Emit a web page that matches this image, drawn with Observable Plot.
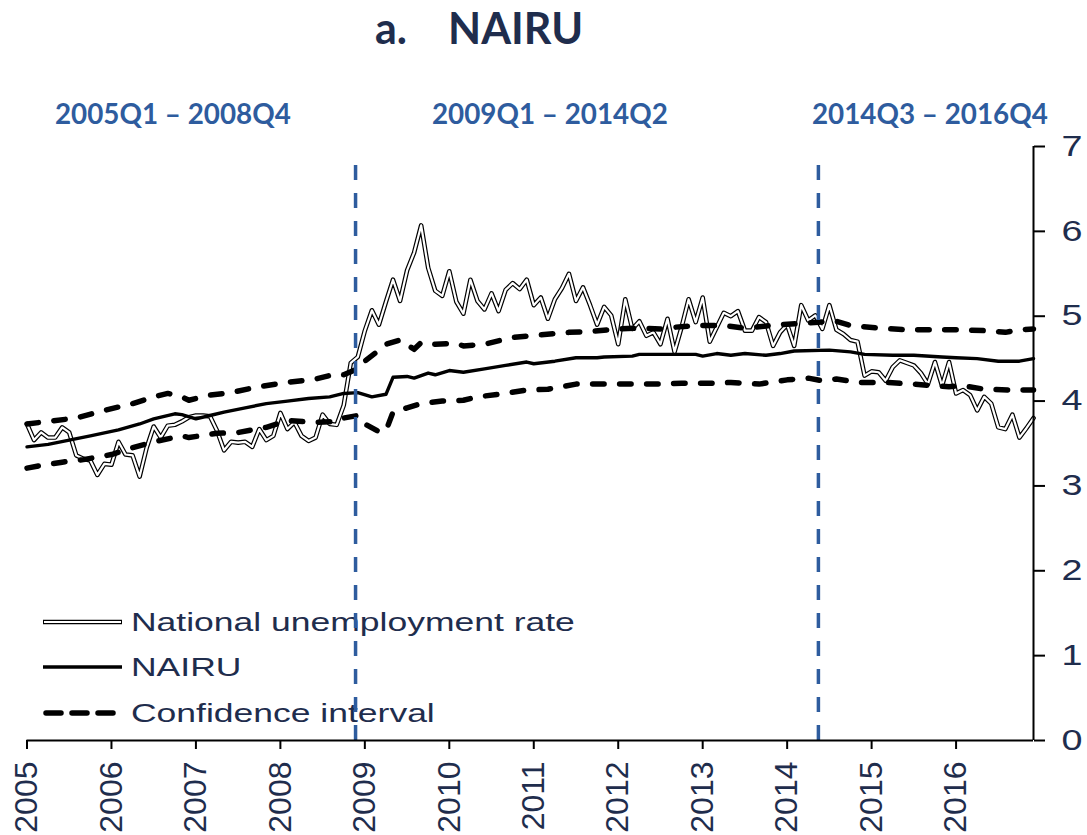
<!DOCTYPE html>
<html><head><meta charset="utf-8">
<script src="https://cdn.jsdelivr.net/npm/d3@7"></script>
<script src="https://cdn.jsdelivr.net/npm/@observablehq/plot@0.6"></script>
<style>
body{margin:0;background:#fff;}
#wrap{position:relative;width:1087px;height:835px;overflow:hidden;}
#overlay,#chart{position:absolute;left:0;top:0;}
</style></head><body>
<div id="wrap">
<svg id="overlay" width="1087" height="835" xmlns="http://www.w3.org/2000/svg"></svg>
<div id="chart"></div>
</div>
<script>
// ---- data ----
const title = "NAIRU";
const titlePrefix = "a.";
const periodLabels = ["2005Q1 – 2008Q4", "2009Q1 – 2014Q2", "2014Q3 – 2016Q4"];
const seriesNames = ["National unemployment rate", "NAIRU", "Confidence interval"];
const startYear = 2005;
const xTicks = [2005, 2006, 2007, 2008, 2009, 2010, 2011, 2012, 2013, 2014, 2015, 2016];
const yTicks = [0, 1, 2, 3, 4, 5, 6, 7];
const breakDates = [2008.89, 2014.37];
const breakTop = 6.93;

// monthly national unemployment rate, Jan 2005 - Dec 2016
const unemployment = [
  3.73, 3.54, 3.63, 3.57, 3.57, 3.69, 3.63, 3.36, 3.32, 3.30, 3.13, 3.26,
  3.25, 3.52, 3.37, 3.36, 3.11, 3.45, 3.70, 3.57, 3.71, 3.72, 3.76, 3.81,
  3.83, 3.83, 3.82, 3.65, 3.42, 3.52, 3.51, 3.52, 3.46, 3.67, 3.54, 3.59,
  3.86, 3.67, 3.75, 3.59, 3.53, 3.57, 3.84, 3.73, 3.72, 3.95, 4.45, 4.52,
  4.83, 5.07, 4.90, 5.17, 5.43, 5.18, 5.54, 5.75, 6.07, 5.57, 5.30, 5.24,
  5.53, 5.17, 5.03, 5.43, 5.18, 5.08, 5.27, 5.06, 5.31, 5.39, 5.32, 5.43,
  5.13, 5.22, 4.97, 5.20, 5.33, 5.50, 5.18, 5.34, 5.13, 4.90, 5.11, 5.01,
  4.67, 5.20, 4.85, 4.94, 4.77, 4.81, 4.67, 4.97, 4.58, 4.87, 5.20, 4.93,
  5.22, 4.70, 4.87, 5.04, 5.00, 5.06, 4.83, 4.83, 4.99, 4.93, 4.65, 4.81,
  4.90, 4.65, 5.13, 4.95, 5.01, 4.85, 5.13, 4.84, 4.79, 4.72, 4.70, 4.30,
  4.35, 4.34, 4.24, 4.40, 4.48, 4.45, 4.42, 4.33, 4.20, 4.46, 4.18, 4.46,
  4.09, 4.13, 4.07, 3.89, 4.05, 3.97, 3.69, 3.67, 3.84, 3.57, 3.68, 3.80
];

const nairuMonths = ["2005-01","2005-04","2005-07","2005-10","2006-02","2006-05","2006-07","2006-10","2006-11","2007-01","2007-03","2007-05","2007-08","2007-11","2008-02","2008-05","2008-08","2008-10","2008-12","2009-02","2009-04","2009-05","2009-07","2009-08","2009-10","2009-11","2010-01","2010-03","2010-06","2010-09","2010-12","2011-01","2011-04","2011-07","2011-10","2011-11","2012-03","2012-04","2012-12","2013-01","2013-03","2013-05","2013-07","2013-10","2013-12","2014-02","2014-07","2014-10","2014-12","2015-04","2015-07","2015-11","2016-01","2016-04","2016-07","2016-10","2016-12"];
const nairuValues = [3.46,3.49,3.54,3.59,3.66,3.73,3.79,3.85,3.84,3.79,3.83,3.87,3.92,3.97,4.00,4.03,4.05,4.09,4.10,4.05,4.08,4.28,4.29,4.27,4.33,4.31,4.36,4.34,4.38,4.42,4.46,4.44,4.47,4.51,4.51,4.52,4.53,4.55,4.55,4.53,4.56,4.54,4.56,4.54,4.56,4.59,4.60,4.58,4.55,4.54,4.54,4.52,4.51,4.50,4.47,4.47,4.50];

const upperMonths = ["2005-01","2005-04","2005-08","2005-12","2006-04","2006-07","2006-09","2006-11","2006-12","2007-03","2007-06","2007-10","2008-02","2008-06","2008-09","2008-10","2008-12","2009-01","2009-03","2009-04","2009-06","2009-08","2009-09","2009-11","2010-02","2010-03","2010-06","2010-10","2011-02","2011-06","2011-09","2012-01","2012-04","2012-07","2012-09","2012-12","2013-04","2013-07","2013-12","2014-04","2014-07","2014-08","2014-10","2015-02","2015-06","2015-10","2016-02","2016-05","2016-08","2016-10","2016-12"];
const upperValues = [3.73,3.76,3.80,3.89,3.97,4.05,4.09,4.05,4.01,4.07,4.10,4.17,4.22,4.26,4.32,4.31,4.38,4.47,4.60,4.67,4.72,4.61,4.69,4.67,4.68,4.65,4.67,4.75,4.78,4.81,4.82,4.85,4.86,4.85,4.87,4.89,4.89,4.86,4.90,4.92,4.94,4.94,4.89,4.86,4.84,4.84,4.84,4.83,4.81,4.84,4.85];

const lowerMonths = ["2005-01","2005-03","2005-06","2005-09","2006-01","2006-04","2006-07","2006-11","2006-12","2007-04","2007-07","2007-11","2008-02","2008-06","2008-09","2008-10","2008-12","2009-01","2009-03","2009-04","2009-05","2009-07","2009-09","2009-12","2010-03","2010-05","2010-08","2010-12","2011-03","2011-07","2011-10","2012-02","2012-06","2012-10","2013-02","2013-05","2013-09","2014-01","2014-04","2014-06","2014-08","2014-11","2015-03","2015-07","2015-10","2015-12","2016-02","2016-05","2016-09","2016-12"];
const lowerValues = [3.21,3.24,3.28,3.31,3.37,3.45,3.52,3.59,3.57,3.62,3.63,3.69,3.77,3.75,3.76,3.80,3.83,3.73,3.64,3.65,3.87,3.92,3.97,4.00,4.01,4.05,4.08,4.13,4.14,4.20,4.20,4.20,4.20,4.21,4.21,4.22,4.20,4.25,4.27,4.24,4.26,4.22,4.22,4.20,4.18,4.17,4.18,4.14,4.13,4.13];

// ---- build tables ----
const ym = s => { const [y, m] = s.split("-").map(Number); return y + (m - 1) / 12; };
const unempData = unemployment.map((v, i) => ({t: startYear + i / 12, v}));
const nairuData = nairuMonths.map((m, i) => ({t: ym(m), v: nairuValues[i]}));
const upperData = upperMonths.map((m, i) => ({t: ym(m), v: upperValues[i]}));
const lowerData = lowerMonths.map((m, i) => ({t: ym(m), v: lowerValues[i]}));
const xMax = startYear + (unemployment.length - 1) / 12;

const navy = "#1f2d4d";
const blue = "#2e5c9e";
const ciDash = "11.5,15.5";

const chart = Plot.plot({
  width: 1087, height: 835,
  marginLeft: 26.5, marginRight: 54, marginTop: 146, marginBottom: 95,
  style: {background: "transparent", fontFamily: "'Liberation Sans', Arial, sans-serif", color: navy, overflow: "visible"},
  x: {domain: [startYear, xMax]},
  y: {domain: [0, 7]},
  marks: [
    Plot.line(unempData, {x: "t", y: "v", stroke: "black", strokeWidth: 4.6, strokeLinejoin: "round"}),
    Plot.line(unempData, {x: "t", y: "v", stroke: "white", strokeWidth: 2.2, strokeLinejoin: "round"}),
    Plot.line(nairuData, {x: "t", y: "v", stroke: "black", strokeWidth: 3.4}),
    Plot.line(upperData, {x: "t", y: "v", stroke: "black", strokeWidth: 5.5, strokeDasharray: ciDash, strokeLinecap: "round"}),
    Plot.line(lowerData, {x: "t", y: "v", stroke: "black", strokeWidth: 5.5, strokeDasharray: ciDash, strokeLinecap: "round"}),
    Plot.ruleX(breakDates, {y1: 0, y2: breakTop, stroke: blue, strokeWidth: 3.5, strokeDasharray: "15,13"}),
    Plot.ruleY([0], {stroke: "black", strokeWidth: 2}),
    Plot.ruleX([xMax], {stroke: "black", strokeWidth: 2}),
    Plot.axisX({ticks: xTicks, tickFormat: d => String(d), tickSize: 9, tickRotate: -90, tickPadding: 12,
      fontSize: 32, stroke: "black", strokeWidth: 2, fill: navy, label: null}),
    Plot.axisY({anchor: "right", ticks: yTicks, tickFormat: d => String(d), tickSize: 11, tickPadding: 17, fontSize: 29,
      textAnchor: "start", stroke: "black", strokeWidth: 2, fill: navy, label: null})
  ]
});
document.getElementById("chart").appendChild(chart);

// widen right-axis labels like the reference (stretched glyphs)
chart.querySelectorAll('g[aria-label="y-axis tick label"] text').forEach(t => {
  t.setAttribute("textLength", 21);
  t.setAttribute("lengthAdjust", "spacingAndGlyphs");
});

// ---- overlay: title, period labels, legend ----
const ov = d3.select("#overlay");
const tt = ov.append("text").attr("x", 375).attr("y", 44)
  .attr("font-family", "Lato, 'Open Sans', sans-serif").attr("font-weight", 700)
  .attr("font-size", 43).attr("fill", navy);
tt.append("tspan").text(titlePrefix);
tt.append("tspan").attr("x", 448).text(title);

const periodX = [55, 432, 812];
periodLabels.forEach((s, i) => {
  ov.append("text").attr("x", periodX[i]).attr("y", 124)
    .attr("font-family", "Lato, 'Open Sans', sans-serif").attr("font-weight", 700)
    .attr("font-size", 27.8).attr("fill", blue).text(s);
});

const rows = [622, 667, 713];
const lg = ov.append("g");
// swatch 1: double line
lg.append("line").attr("x1", 43).attr("x2", 122).attr("y1", rows[0]).attr("y2", rows[0]).attr("stroke", "black").attr("stroke-width", 4.6);
lg.append("line").attr("x1", 44).attr("x2", 121).attr("y1", rows[0]).attr("y2", rows[0]).attr("stroke", "white").attr("stroke-width", 2.2);
// swatch 2: solid
lg.append("line").attr("x1", 43).attr("x2", 122).attr("y1", rows[1]).attr("y2", rows[1]).attr("stroke", "black").attr("stroke-width", 3.4);
// swatch 3: dashed
lg.append("line").attr("x1", 46).attr("x2", 118).attr("y1", rows[2]).attr("y2", rows[2]).attr("stroke", "black").attr("stroke-width", 5.5)
  .attr("stroke-dasharray", "15,11").attr("stroke-linecap", "round");
seriesNames.forEach((s, i) => {
  lg.append("text").attr("transform", `translate(131,${rows[i] + 9}) scale(1.42,1)`)
    .attr("font-family", "'Liberation Sans', Arial, sans-serif").attr("font-size", 25)
    .attr("fill", navy).text(s);
});
</script>
</body></html>
